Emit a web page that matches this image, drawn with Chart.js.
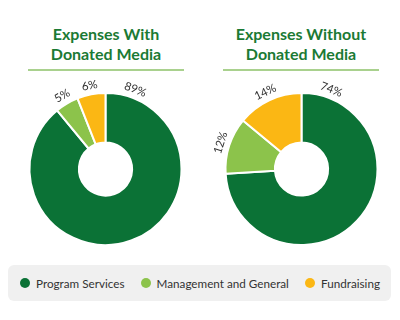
<!DOCTYPE html>
<html>
<head>
<meta charset="utf-8">
<script src="https://cdn.jsdelivr.net/npm/chart.js@4"></script>
<style>
  body { margin: 0; width: 400px; height: 320px; background: #fff; font-family: Lato, sans-serif; position: relative; overflow: hidden; }
  .titulo { position: absolute; top: 24px; width: 156px; text-align: center; color: #1b7a34; font-weight: bold; font-size: 16px; line-height: 20px; padding-bottom: 5px; border-bottom: 2px solid #a9d18e; }
  .grafico { position: absolute; top: 72px; width: 211px; height: 194px; }
  #legenda { position: absolute; left: 8px; top: 265px; width: 383px; height: 36px; background: #f0f0f0; border-radius: 6px; display: flex; align-items: center; justify-content: space-between; box-sizing: border-box; padding: 0 11px 0 12px; font-size: 11.7px; color: #333; }
  #legenda span.item { display: flex; align-items: center; }
  #legenda i { display: inline-block; width: 10px; height: 10px; border-radius: 50%; margin-right: 6px; }
</style>
</head>
<body>
<div class="titulo" style="left:28px">Expenses With<br>Donated Media</div>
<div class="titulo" style="left:223px">Expenses Without<br>Donated Media</div>
<div class="grafico" style="left:0px"><canvas id="grafico1"></canvas></div>
<div class="grafico" style="left:196px"><canvas id="grafico2"></canvas></div>
<div id="legenda"></div>
<script>
const categorias = ['Program Services', 'Management and General', 'Fundraising'];
const comMidia = [89, 5, 6];
const semMidia = [74, 12, 14];
const cores = ['#0b7236', '#8cc34b', '#fbb714'];

// legenda em HTML
document.querySelector('#legenda').innerHTML = categorias
  .map((c, i) => `<span class="item"><i style="background:${cores[i]}"></i>${c}</span>`)
  .join('');

// rótulos de porcentagem em volta do anel
const rotulos = {
  id: 'rotulos',
  afterDatasetsDraw(chart) {
    const ctx = chart.ctx;
    const meta = chart.getDatasetMeta(0);
    const valores = chart.data.datasets[0].data;
    ctx.save();
    ctx.font = '11.5px Lato, sans-serif';
    ctx.fillStyle = '#333';
    ctx.textAlign = 'center';
    ctx.textBaseline = 'middle';
    meta.data.forEach((arco, i) => {
      const { x, y, startAngle, endAngle, outerRadius } = arco.getProps(['x', 'y', 'startAngle', 'endAngle', 'outerRadius'], true);
      let ang = (startAngle + endAngle) / 2;
      if (endAngle - startAngle > Math.PI) ang = startAngle + 0.36; // fatia grande: perto do início
      const r = outerRadius + 9;
      const px = x + Math.cos(ang) * r;
      const py = y + Math.sin(ang) * r;
      ctx.save();
      ctx.translate(px, py);
      ctx.rotate(ang + Math.PI / 2);
      ctx.fillText(valores[i] + '%', 0, 0);
      ctx.restore();
    });
    ctx.restore();
  }
};

function criaGrafico(id, valores) {
  return new Chart(document.getElementById(id).getContext('2d'), {
    type: 'doughnut',
    data: {
      labels: categorias,
      datasets: [{
        data: valores,
        backgroundColor: cores,
        borderColor: '#fff',
        borderWidth: 2
      }]
    },
    options: {
      responsive: true,
      maintainAspectRatio: false,
      animation: false,
      cutout: '35%',
      layout: { padding: 20 },
      plugins: {
        legend: { display: false },
        tooltip: { enabled: false }
      }
    },
    plugins: [rotulos]
  });
}

criaGrafico('grafico1', comMidia);
criaGrafico('grafico2', semMidia);
</script>
</body>
</html>
